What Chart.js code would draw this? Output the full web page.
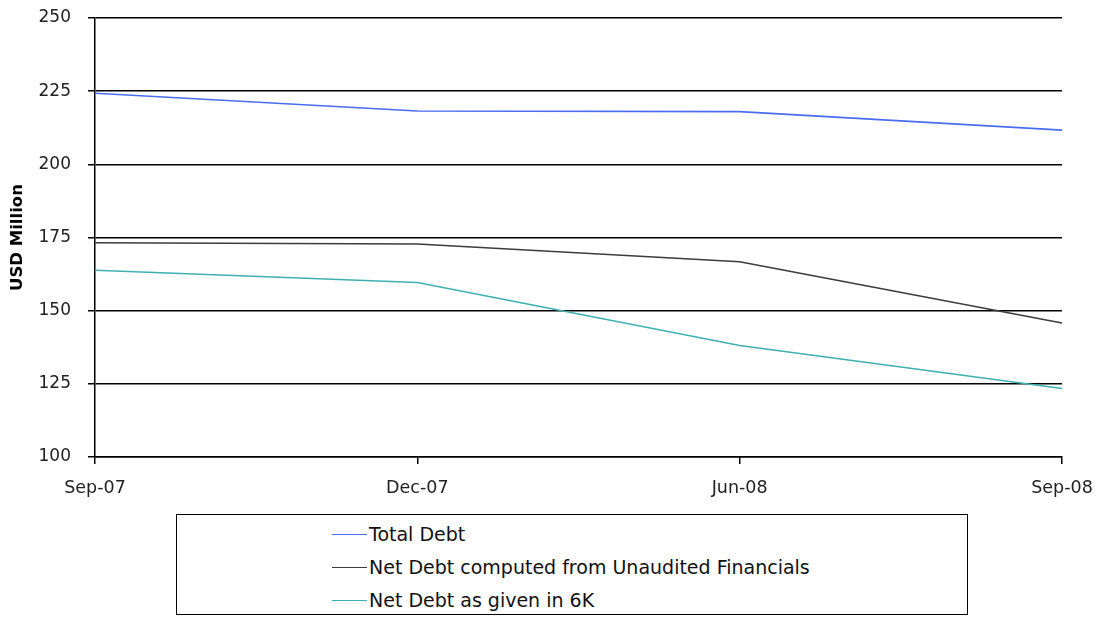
<!DOCTYPE html>
<html>
<head>
<meta charset="utf-8">
<script src="https://cdn.jsdelivr.net/npm/chart.js@4"></script>
<style>
  body { margin: 0; background: #fff; font-family: "DejaVu Sans", sans-serif; }
  #wrap { position: relative; width: 1096px; height: 618px; }
  #chart { position: absolute; left: 0; top: 0; }
  .legend-box { position: absolute; left: 176px; top: 514px; width: 790px; height: 99px; border: 1.5px solid #000; }
  .legend-item { position: absolute; left: 155px; display: flex; align-items: center; font-size: 19px; line-height: 22px; color: #111; }
  .legend-item span.swatch { display: inline-block; width: 35px; height: 0; border-top: 1.6px solid; margin-right: 2px; }
</style>
</head>
<body>
<div id="wrap">
  <canvas id="chart" width="1096" height="505"></canvas>
  <div class="legend-box" id="legend"></div>
</div>
<script>
const labels = ['Sep-07', 'Dec-07', 'Jun-08', 'Sep-08'];
const totalDebt = [224.3, 218.2, 218.0, 211.7];
const netDebtUnaudited = [173.2, 172.8, 166.7, 145.8];
const netDebt6K = [163.8, 159.6, 138.1, 123.4];
const seriesNames = ['Total Debt', 'Net Debt computed from Unaudited Financials', 'Net Debt as given in 6K'];
const seriesColors = ['#4a6cf0', '#3c3c3c', '#3fb0b0'];

const seriesData = [totalDebt, netDebtUnaudited, netDebt6K];

const chart = new Chart(document.getElementById('chart'), {
  type: 'line',
  data: {
    labels: labels,
    datasets: seriesData.map((d, i) => ({
      label: seriesNames[i],
      data: d,
      borderColor: seriesColors[i],
      borderWidth: 1.6,
      pointRadius: 0,
      tension: 0,
      fill: false
    }))
  },
  options: {
    responsive: false,
    animation: false,
    layout: { padding: { top: 18, right: 34, left: 0, bottom: 0 } },
    plugins: { legend: { display: false }, tooltip: { enabled: false } },
    scales: {
      x: {
        offset: false,
        grid: { drawOnChartArea: false, drawTicks: true, tickLength: 7, color: '#000', lineWidth: 1.5 },
        border: { color: '#000', width: 1.5 },
        ticks: { color: '#222', font: { family: 'DejaVu Sans', size: 17.5 }, padding: 14, maxRotation: 0 },
        afterFit: (axis) => {
          axis.height = 48;
          axis.paddingLeft = 0;
          axis.paddingRight = 0;
        }
      },
      y: {
        min: 100,
        max: 250,
        grid: { color: '#000', lineWidth: 1.5, tickLength: 7 },
        border: { color: '#000', width: 1.5 },
        ticks: { stepSize: 25, color: '#222', font: { family: 'DejaVu Sans', size: 17 }, padding: 17 },
        title: { display: true, text: 'USD Million', color: '#000', font: { family: 'DejaVu Sans', size: 16.5, weight: 'bold' }, padding: { top: 8, bottom: 0 } },
        afterFit: (axis) => {
          axis.width = 95;
          axis.paddingTop = 0;
          axis.paddingBottom = 0;
        }
      }
    }
  }
});

// legend box built from the dataset names/colours
const legendEl = document.getElementById('legend');
seriesNames.forEach((name, i) => {
  const item = document.createElement('div');
  item.className = 'legend-item';
  item.style.top = (8 + i * 33) + 'px';
  item.innerHTML = `<span class="swatch" style="border-color:${seriesColors[i]}"></span>${name}`;
  legendEl.appendChild(item);
});
</script>
</body>
</html>
